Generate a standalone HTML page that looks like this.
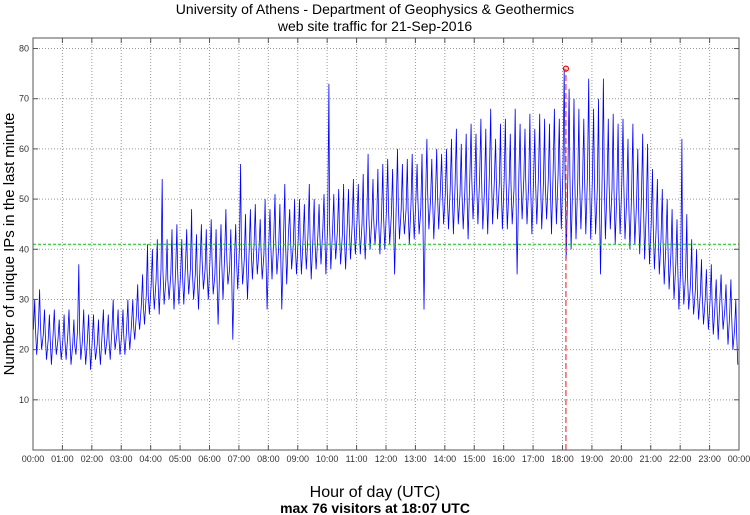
<!DOCTYPE html>
<html><head><meta charset="utf-8"><style>
body{margin:0;background:#fff}
svg{display:block;font-family:"Liberation Sans",sans-serif}
</style></head><body>
<svg id="chart" width="750" height="515" viewBox="0 0 750 515" xmlns="http://www.w3.org/2000/svg">
<text x="375" y="14" text-anchor="middle" font-size="14">University of Athens - Department of Geophysics &amp; Geothermics</text>
<text x="375" y="31" text-anchor="middle" font-size="14">web site traffic for 21-Sep-2016</text>
<text transform="translate(14,244) rotate(-90)" text-anchor="middle" font-size="15">Number of unique IPs in the last minute</text>
<text x="375" y="497" text-anchor="middle" font-size="16">Hour of day (UTC)</text>
<text x="375" y="513" text-anchor="middle" font-size="14" font-weight="bold">max 76 visitors at 18:07 UTC</text>
<g id="grid"></g><g id="series"></g><g id="axes"></g>
</svg>
<script>
const tickHours = [0,1,2,3,4,5,6,7,8,9,10,11,12,13,14,15,16,17,18,19,20,21,22,23,24];
const tickLabels = ["00:00","01:00","02:00","03:00","04:00","05:00","06:00","07:00","08:00","09:00","10:00","11:00","12:00","13:00","14:00","15:00","16:00","17:00","18:00","19:00","20:00","21:00","22:00","23:00","00:00"];
const yTicks = [10,20,30,40,50,60,70,80];
// 10-minute bucket highs, typical values and lows (visitors)
const hiVals = [30,32,28,27,28,26, 27,28,26,37,28,27, 27,26,28,27,30,28, 28,30,30,33,35,41,
 40,42,54,42,44,45, 42,44,48,43,45,44, 46,44,45,48,44,45, 57,47,48,49,46,50,
 48,51,49,53,48,50, 50,49,53,50,49,51, 73,51,52,53,52,54, 53,55,59,54,56,57,
 58,56,60,57,58,59, 57,59,62,58,60,59, 60,62,64,61,63,65, 63,66,64,68,62,65,
 66,63,68,65,64,67, 64,67,66,65,68,66, 76,72,70,68,66,74, 68,70,74,66,67,65,
 66,62,65,60,63,61, 56,54,52,50,48,46, 62,47,42,40,38,36, 37,34,35,33,34,30];
const midVals = [24,25,23,22,23,22, 22,23,21,24,22,22, 22,21,23,22,24,23, 23,24,25,27,29,31,
 33,34,36,34,35,36, 35,37,36,35,38,36, 38,35,37,39,36,38, 40,38,40,41,40,39,
 41,42,40,42,43,41, 42,42,43,42,43,44, 45,44,44,43,45,45, 46,45,47,46,46,47,
 48,47,49,48,48,49, 50,48,51,50,51,52, 51,52,53,51,52,54, 53,54,52,55,54,53,
 54,53,52,55,54,53, 54,55,53,54,56,55, 56,55,54,53,54,55, 54,52,55,53,52,52,
 53,50,51,49,50,48, 45,44,42,41,39,37, 36,35,33,32,31,30, 30,29,30,28,27,24];
const loVals = [19,20,18,17,19,18, 18,17,19,18,17,16, 18,17,19,18,20,19, 19,20,22,24,25,27,
 28,27,29,30,28,29, 29,31,30,28,32,30, 31,25,30,33,22,32, 33,30,34,35,34,28,
 34,35,28,33,36,35, 35,36,34,36,37,35, 36,38,37,36,38,39, 39,38,40,41,39,40,
 41,35,42,43,41,42, 43,28,44,42,44,45, 44,43,45,44,42,46, 45,44,43,45,46,44,
 44,45,35,46,45,43, 45,44,46,43,45,44, 38,40,42,44,43,42, 43,35,42,44,41,43,
 42,40,41,39,38,37, 36,35,33,32,30,28, 29,28,27,26,25,24, 23,22,24,21,20,17];
const meanVal = 41;
const maxVal = 76;
const maxMinute = 18*60+7;

const L=33,R=739,T=38,B=450,YMAX=82.1;
const xs = m => L + (m/1440)*(R-L);
const ys = v => B - (v/YMAX)*(B-T);
const NS="http://www.w3.org/2000/svg";
function mk(tag, parent, attrs){const e=document.createElementNS(NS,tag);for(const k in attrs)e.setAttribute(k,attrs[k]);parent.appendChild(e);return e;}
const grid=document.getElementById('grid'), ser=document.getElementById('series'), axes=document.getElementById('axes');

tickHours.forEach((h,i)=>{
  const x=xs(h*60);
  if(h>0&&h<24){const g=mk('line',grid,{x1:x,x2:x,y1:T,y2:B,stroke:'#999','stroke-dasharray':'1,2','stroke-width':1});
  
  }
  const tk=mk('line',axes,{x1:x,x2:x,y1:B,y2:B-5,stroke:'#555'});
  
  
  const tk2=mk('line',axes,{x1:x,x2:x,y1:T,y2:T+5,stroke:'#555'});
  
  
  const t=mk('text',axes,{x:x,y:B+12,'text-anchor':'middle','font-size':9,fill:'#333'});
  t.textContent=tickLabels[i];
  
  
});
yTicks.forEach(v=>{
  const y=ys(v);
  const g=mk('line',grid,{x1:L,x2:R,y1:y,y2:y,stroke:'#999','stroke-dasharray':'1,2','stroke-width':1});
  
  
  const tk=mk('line',axes,{x1:L,x2:L+5,y1:y,y2:y,stroke:'#555'});
  
  
  const tk2=mk('line',axes,{x1:R,x2:R-5,y1:y,y2:y,stroke:'#555'});
  
  
  const t=mk('text',axes,{x:L-4,y:y+3,'text-anchor':'end','font-size':9,fill:'#333'});
  t.textContent=v;
  
  
});
const fr=mk('rect',axes,{x:L,y:T,width:R-L,height:B-T,fill:'none',stroke:'#555','stroke-width':1});



let pts=[];
hiVals.forEach((h,i)=>{
  const m=midVals[i];
  pts.push(xs(i*10+1).toFixed(1)+','+ys(m).toFixed(1));
  pts.push(xs(i*10+3.5).toFixed(1)+','+ys(h).toFixed(1));
  pts.push(xs(i*10+5).toFixed(1)+','+ys(m).toFixed(1));
  pts.push(xs(i*10+7.5).toFixed(1)+','+ys(loVals[i]).toFixed(1));
});
const line=mk('polyline',ser,{points:pts.join(' '),fill:'none',stroke:'#0000ff','stroke-width':0.8});



const mean=mk('line',ser,{x1:L,x2:R,y1:ys(meanVal),y2:ys(meanVal),stroke:'#00cc00','stroke-dasharray':'3,2','stroke-width':1});


const mx=xs(maxMinute);
const vl=mk('line',ser,{x1:mx,x2:mx,y1:B,y2:ys(maxVal),stroke:'#ff3333','stroke-dasharray':'6,3','stroke-width':1.2});


const c=mk('circle',ser,{cx:mx,cy:ys(maxVal),r:2.5,fill:'none',stroke:'#ff0000','stroke-width':1.2});


</script>
</body></html>
